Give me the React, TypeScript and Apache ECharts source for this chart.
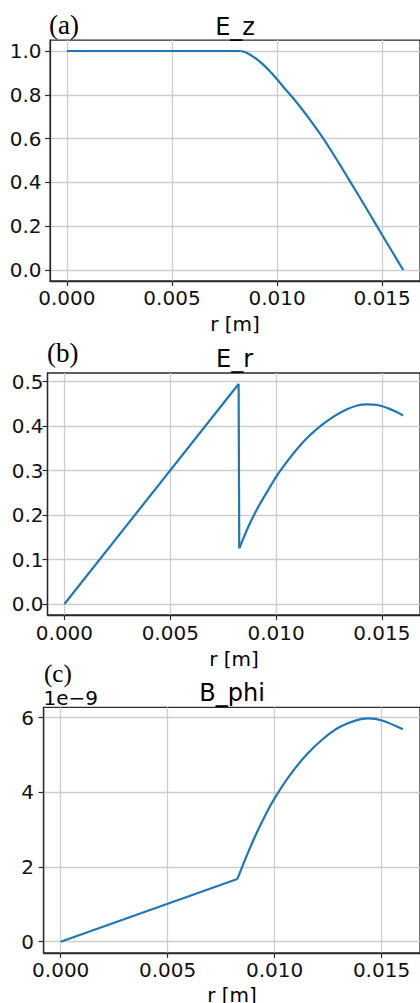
import React, { useEffect, useRef } from "react";
import * as echarts from "echarts";

// ---- data ----
const X_TICKS = [0, 0.005, 0.01, 0.015];
const X_TICK_LABELS = ["0.000", "0.005", "0.010", "0.015"];

const EZ_TICKS = [0, 0.2, 0.4, 0.6, 0.8, 1.0];
const EZ_TICK_LABELS = ["0.0", "0.2", "0.4", "0.6", "0.8", "1.0"];
const ER_TICKS = [0, 0.1, 0.2, 0.3, 0.4, 0.5];
const ER_TICK_LABELS = ["0.0", "0.1", "0.2", "0.3", "0.4", "0.5"];
const B_TICKS = [0, 2, 4, 6];
const B_TICK_LABELS = ["0", "2", "4", "6"];
const B_OFFSET_LABEL = "1e\u22129";

// E_z: flat part, then curved part (starting at the kink)
const R_EZ_FLAT = [0, 0.00827];
const EZ_FLAT = [1.0, 1.0];
const R_EZ_CURVE = [0.00827, 0.0085, 0.0088, 0.009, 0.0093, 0.0096, 0.01, 0.0103, 0.0107, 0.011, 0.0115, 0.012, 0.0125, 0.013, 0.0135, 0.014, 0.0145, 0.015, 0.0155, 0.016];
const EZ_CURVE = [1.0, 0.994, 0.978, 0.965, 0.941, 0.913, 0.871, 0.836, 0.792, 0.757, 0.695, 0.628, 0.556, 0.479, 0.4, 0.321, 0.241, 0.16, 0.08, 0.0];

// E_r: linear rise and vertical drop, then curved part
const R_ER_LIN = [0, 0.00823, 0.00826];
const ER_LIN = [0, 0.4948, 0.1252];
const R_ER_CURVE = [0.00826, 0.0087, 0.0092, 0.0097, 0.01, 0.0105, 0.011, 0.0115, 0.01209, 0.0127, 0.0133, 0.0138, 0.01429, 0.0148, 0.0153, 0.0157, 0.016];
const ER_CURVE = [0.1252, 0.175, 0.222, 0.262, 0.286, 0.319, 0.349, 0.375, 0.4, 0.421, 0.437, 0.446, 0.449, 0.4475, 0.44, 0.432, 0.424];

// B_phi in units of 1e-9: linear part, then curved part
const R_B_LIN = [0, 0.00826];
const B_LIN = [0, 1.679];
const R_B_CURVE = [0.00826, 0.00868, 0.00915, 0.00962, 0.01, 0.0107, 0.01148, 0.01226, 0.01304, 0.01381, 0.01436, 0.01506, 0.016];
const B_CURVE = [1.679, 2.28, 2.9, 3.45, 3.84, 4.45, 5.0, 5.43, 5.75, 5.93, 5.98, 5.92, 5.69];

const TITLES = ["E_z", "E_r", "B_phi"];
const PANEL_TAGS = ["(a)", "(b)", "(c)"];
const X_NAME = "r [m]";

const LINE_COLOR = "#1f77b4";
const SPINE = "#2a2a2a";
const GRIDC = "#cdcdcd";
const SANS = "DejaVu Sans";
const TICK_FS = 20;

function labelFor(ticks: number[], labels: string[]) {
  return (v: number) => {
    const i = ticks.findIndex((t) => Math.abs(t - v) < 1e-9);
    return i >= 0 ? labels[i] : "";
  };
}

const pairs = (xs: number[], ys: number[]) => xs.map((x, i) => [x, ys[i]]);

export default function App() {
  const ref = useRef<HTMLDivElement>(null);
  useEffect(() => {
    const chart = echarts.init(ref.current!, null, { renderer: "svg" });

    const panels = [
      {
        grid: { left: 50.1, top: 40.05, width: 371.9, height: 240.9 },
        yMin: -0.05, yMax: 1.05, yTicks: EZ_TICKS, yLabels: EZ_TICK_LABELS, yMargin: 8.5,
        straight: pairs(R_EZ_FLAT, EZ_FLAT), curve: pairs(R_EZ_CURVE, EZ_CURVE),
        tag: { x: 49, y: 24.5, fs: 27 }, title: { x: 235, y: 26.5 }, xname: { x: 235, y: 323.5 },
      },
      {
        grid: { left: 47.5, top: 373.0, width: 374, height: 242 },
        yMin: -0.02474, yMax: 0.51954, yTicks: ER_TICKS, yLabels: ER_TICK_LABELS, yMargin: 4,
        straight: pairs(R_ER_LIN, ER_LIN), curve: pairs(R_ER_CURVE, ER_CURVE),
        tag: { x: 47, y: 353, fs: 27 }, title: { x: 234.5, y: 358.5 }, xname: { x: 234, y: 659 },
      },
      {
        grid: { left: 43.6, top: 707.3, width: 376.6, height: 245.6 },
        yMin: -0.299, yMax: 6.279, yTicks: B_TICKS, yLabels: B_TICK_LABELS, yMargin: 9.5,
        straight: pairs(R_B_LIN, B_LIN), curve: pairs(R_B_CURVE, B_CURVE),
        tag: { x: 44, y: 673.5, fs: 25 }, title: { x: 232, y: 692.5 }, xname: { x: 232, y: 995 },
      },
    ];

    const graphic: any[] = [];
    panels.forEach((p, i) => {
      graphic.push({
        type: "text", x: p.tag.x, y: p.tag.y, silent: true,
        style: { text: PANEL_TAGS[i], fontFamily: "Liberation Serif", fontSize: p.tag.fs, fill: "#000", align: "left", verticalAlign: "middle" },
      });
      graphic.push({
        type: "text", x: p.title.x, y: p.title.y, silent: true,
        style: { text: TITLES[i], fontFamily: SANS, fontSize: 24, fill: "#000", align: "center", verticalAlign: "middle" },
      });
      graphic.push({
        type: "text", x: p.xname.x, y: p.xname.y, silent: true,
        style: { text: X_NAME, fontFamily: SANS, fontSize: TICK_FS, fill: "#000", align: "center", verticalAlign: "middle" },
      });
    });
    graphic.push({
      type: "text", x: 43.5, y: 697.8, silent: true,
      style: { text: B_OFFSET_LABEL, fontFamily: SANS, fontSize: TICK_FS, fill: "#000", align: "left", verticalAlign: "middle" },
    });

    const series: any[] = [];
    panels.forEach((p, i) => {
      series.push({
        type: "line", xAxisIndex: i, yAxisIndex: i, data: p.straight,
        showSymbol: false, symbol: "none", smooth: false,
        lineStyle: { color: LINE_COLOR, width: 2.2 }, clip: true,
      });
      series.push({
        type: "line", xAxisIndex: i, yAxisIndex: i, data: p.curve,
        showSymbol: false, symbol: "none", smooth: 0.3,
        lineStyle: { color: LINE_COLOR, width: 2.2 }, clip: true,
      });
    });

    const option: any = {
      animation: false,
      backgroundColor: "#ffffff",
      grid: panels.map((p) => ({
        ...p.grid, show: true, borderColor: SPINE, borderWidth: 1.3, backgroundColor: "transparent",
      })),
      xAxis: panels.map((p, i) => ({
        type: "value", gridIndex: i, min: -0.0008, max: 0.0168,
        axisLine: { show: true, onZero: false, lineStyle: { color: SPINE, width: 1.3 } },
        axisTick: { show: true, length: 5, customValues: X_TICKS, lineStyle: { color: SPINE, width: 1.2 } },
        axisLabel: {
          customValues: X_TICKS, formatter: labelFor(X_TICKS, X_TICK_LABELS),
          fontFamily: SANS, fontSize: TICK_FS, color: "#111", margin: 7.5,
        },
        splitLine: { show: true, lineStyle: { color: GRIDC, width: 1.3 } },
      })),
      yAxis: panels.map((p, i) => ({
        type: "value", gridIndex: i, min: p.yMin, max: p.yMax,
        axisLine: { show: true, onZero: false, lineStyle: { color: SPINE, width: 1.3 } },
        axisTick: { show: true, length: 5, customValues: p.yTicks, lineStyle: { color: SPINE, width: 1.2 } },
        axisLabel: {
          customValues: p.yTicks, formatter: labelFor(p.yTicks, p.yLabels),
          fontFamily: SANS, fontSize: TICK_FS, color: "#111", margin: p.yMargin,
        },
        splitLine: { show: true, lineStyle: { color: GRIDC, width: 1.3 } },
      })),
      series,
      graphic,
    };

    chart.setOption(option);
    return () => chart.dispose();
  }, []);

  return (
    <div
      ref={ref}
      style={{ position: "absolute", left: 0, top: 0, width: 420, height: 1003, background: "#fff" }}
    />
  );
}
